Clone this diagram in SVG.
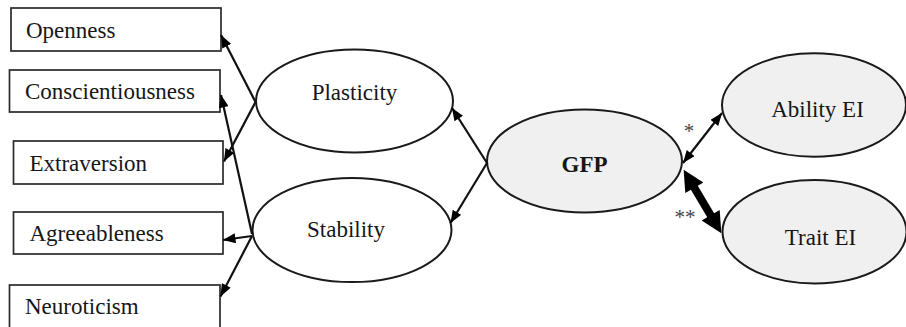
<svg xmlns="http://www.w3.org/2000/svg" width="906" height="327" viewBox="0 0 906 327">
<style>
  .box { fill: #ffffff; stroke: #2a2a2a; stroke-width: 1.7; }
  .ell { fill: #ffffff; stroke: #1a1a1a; stroke-width: 2; }
  .ell.g { fill: #f0f0f0; }
  .t { font-family: "Liberation Serif", "Times New Roman", serif; font-size: 23px; fill: #161616; }
  .b { font-weight: bold; }
  .star { font-family: "Liberation Serif", "Times New Roman", serif; font-size: 21px; fill: #444; text-anchor: middle; }
  .c { stroke: #111; stroke-width: 2.2; fill: none; }
  .thick { stroke: #000; stroke-width: 8; fill: none; }
</style>
<defs>
  <marker id="arr" viewBox="0 0 10 8" refX="10" refY="4" markerWidth="13" markerHeight="10" markerUnits="userSpaceOnUse" orient="auto-start-reverse">
    <path d="M0,0 L10,4 L0,8 z" fill="#000"/>
  </marker>
  <marker id="big" viewBox="0 0 10 10" refX="5" refY="5" markerWidth="24" markerHeight="21" markerUnits="userSpaceOnUse" orient="auto-start-reverse">
    <path d="M0,0 L10,5 L0,10 z" fill="#000"/>
  </marker>
</defs>
<rect width="906" height="327" fill="#ffffff"/>

<g id="openness"><rect class="box" x="11" y="8" width="210" height="43"/><text class="t" x="26" y="37.5">Openness</text></g>
<g id="conscientiousness"><rect class="box" x="9.5" y="70" width="210.5" height="42"/><text class="t" x="25" y="98.5">Conscientiousness</text></g>
<g id="extraversion"><rect class="box" x="13.5" y="141" width="209.5" height="43"/><text class="t" x="29.5" y="170.5">Extraversion</text></g>
<g id="agreeableness"><rect class="box" x="13.5" y="212" width="209.5" height="42"/><text class="t" x="29.5" y="240.5">Agreeableness</text></g>
<g id="neuroticism"><rect class="box" x="9.5" y="285" width="210.5" height="50"/><text class="t" x="25" y="314">Neuroticism</text></g>

<g id="plasticity"><ellipse class="ell" cx="354.5" cy="101" rx="98.5" ry="51.5"/><text class="t" x="354.5" y="100" text-anchor="middle">Plasticity</text></g>
<g id="stability"><ellipse class="ell" cx="352" cy="230" rx="99.5" ry="52"/><text class="t" x="346" y="237" text-anchor="middle">Stability</text></g>
<g id="gfp"><ellipse class="ell g" cx="584.5" cy="161" rx="97.5" ry="51.5"/><text class="t b" x="584.5" y="172" text-anchor="middle">GFP</text></g>
<g id="ability-ei"><ellipse class="ell g" cx="814" cy="105" rx="92" ry="51.7"/><text class="t" x="817.5" y="117.3" text-anchor="middle">Ability EI</text></g>
<g id="trait-ei"><ellipse class="ell g" cx="814.5" cy="231.7" rx="92" ry="51.7"/><text class="t" x="820.5" y="245" text-anchor="middle">Trait EI</text></g>

<g id="connectors">
  <line class="c" x1="255.5" y1="102" x2="221" y2="35" marker-end="url(#arr)"/>
  <line class="c" x1="255.5" y1="102" x2="224" y2="161.5" marker-end="url(#arr)"/>
  <line class="c" x1="252" y1="234" x2="221" y2="95" marker-end="url(#arr)"/>
  <line class="c" x1="252" y1="236" x2="223" y2="240" marker-end="url(#arr)"/>
  <line class="c" x1="252" y1="236" x2="220.5" y2="296.5" marker-end="url(#arr)"/>
  <line class="c" x1="487" y1="163" x2="452" y2="108" marker-end="url(#arr)"/>
  <line class="c" x1="487" y1="163" x2="450.5" y2="223" marker-end="url(#arr)"/>
  <line class="c" x1="683" y1="163" x2="722" y2="113" marker-start="url(#arr)" marker-end="url(#arr)"/>
  <line class="thick" x1="689" y1="178.7" x2="716" y2="224.3" marker-start="url(#big)" marker-end="url(#big)"/>
  <text class="star" x="689" y="138">*</text>
  <text class="star" x="685" y="224">**</text>
</g>
</svg>
